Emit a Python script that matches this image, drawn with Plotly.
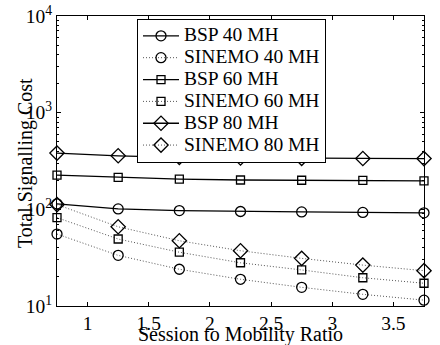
import plotly.graph_objects as go

ratio = [0.75, 1.25, 1.75, 2.25, 2.75, 3.25, 3.75]
bsp_40 = [114, 101, 97, 95, 94, 93, 92]
sinemo_40 = [55.5, 33.4, 24, 18.9, 15.6, 13.2, 11.5]
bsp_60 = [226, 214, 205, 201, 200, 199, 197]
sinemo_60 = [82, 49.3, 36, 28, 23.6, 19.6, 17.2]
bsp_80 = [382, 358, 345, 340, 337, 336, 335]
sinemo_80 = [112, 66, 47.3, 37.3, 31.1, 26.5, 23.2]
y_tick_vals = [10, 100, 1000, 10000]
y_tick_text = ["10<sup>1</sup>", "10<sup>2</sup>", "10<sup>3</sup>", "10<sup>4</sup>"]
x_tick_vals = [1, 1.5, 2, 2.5, 3, 3.5]
x_tick_text = ["1", "1.5", "2", "2.5", "3", "3.5"]

series = [
    ("BSP 40 MH", bsp_40, "circle-open", "solid", 10),
    ("SINEMO 40 MH", sinemo_40, "circle-open", "dot", 10),
    ("BSP 60 MH", bsp_60, "square-open", "solid", 8),
    ("SINEMO 60 MH", sinemo_60, "square-open", "dot", 8),
    ("BSP 80 MH", bsp_80, "diamond-open", "solid", 11),
    ("SINEMO 80 MH", sinemo_80, "diamond-open", "dot", 11),
]

fig = go.Figure()
for name, vals, sym, dash, sz in series:
    solid = dash == "solid"
    fig.add_trace(go.Scatter(
        x=ratio, y=vals, name='<span style="font-size:19.5px">' + name + '</span>',
        mode="lines+markers",
        line=dict(color="black" if solid else "#555555",
                  width=1.3 if solid else 1.0,
                  dash="solid" if solid else "1px,2px"),
        marker=dict(symbol=sym, size=sz, color="black", line=dict(color="black", width=1.3)),
        cliponaxis=False,
    ))

font_family = "Liberation Serif, Times New Roman, serif"

fig.update_layout(
    width=440, height=345,
    margin=dict(l=57, r=16, t=16, b=39, autoexpand=False),
    paper_bgcolor="white", plot_bgcolor="white",
    font=dict(family=font_family, color="black", size=19),
    showlegend=True,
    legend=dict(
        x=0.218, y=0.99, xanchor="left", yanchor="top",
        bordercolor="black", borderwidth=1, bgcolor="white",
        font=dict(family=font_family, size=14.5, color="black"),
        tracegroupgap=0, itemwidth=36,
    ),
    xaxis=dict(
        range=[0.75, 3.75], tickvals=x_tick_vals, ticktext=x_tick_text,
        ticks="inside", ticklen=4, tickcolor="black",
        showline=True, linecolor="black", linewidth=1, mirror="ticks",
        showgrid=False, zeroline=False, automargin=False, ticklabeloverflow="allow",
        tickfont=dict(family=font_family, size=19.5),
    ),
    yaxis=dict(
        type="log", range=[1, 4],
        tickvals=y_tick_vals, ticktext=y_tick_text,
        ticks="inside", ticklen=4, tickcolor="black",
        showline=True, linecolor="black", linewidth=1, mirror="ticks",
        showgrid=False, zeroline=False, automargin=False, ticklabeloverflow="allow",
        tickfont=dict(family=font_family, size=19.5),
        minor=dict(ticks="inside", ticklen=2, tickcolor="black", showgrid=False,
                   tickvals=[m * 10 ** e for e in (1, 2, 3) for m in range(2, 10)]),
    ),
    annotations=[
        dict(text="Session to Mobility Ratio", xref="paper", yref="paper",
             x=0.5, y=0, yshift=-28, xanchor="center", yanchor="middle",
             showarrow=False, font=dict(family=font_family, size=20)),
        dict(text="Total Signalling Cost", xref="paper", yref="paper",
             x=-0.087, y=0.493, xanchor="center", yanchor="middle", textangle=-90,
             showarrow=False, font=dict(family=font_family, size=20)),
    ],
)

fig.write_html("out.html", config={"displayModeBar": False},
               post_script="document.body.style.margin='0';")
